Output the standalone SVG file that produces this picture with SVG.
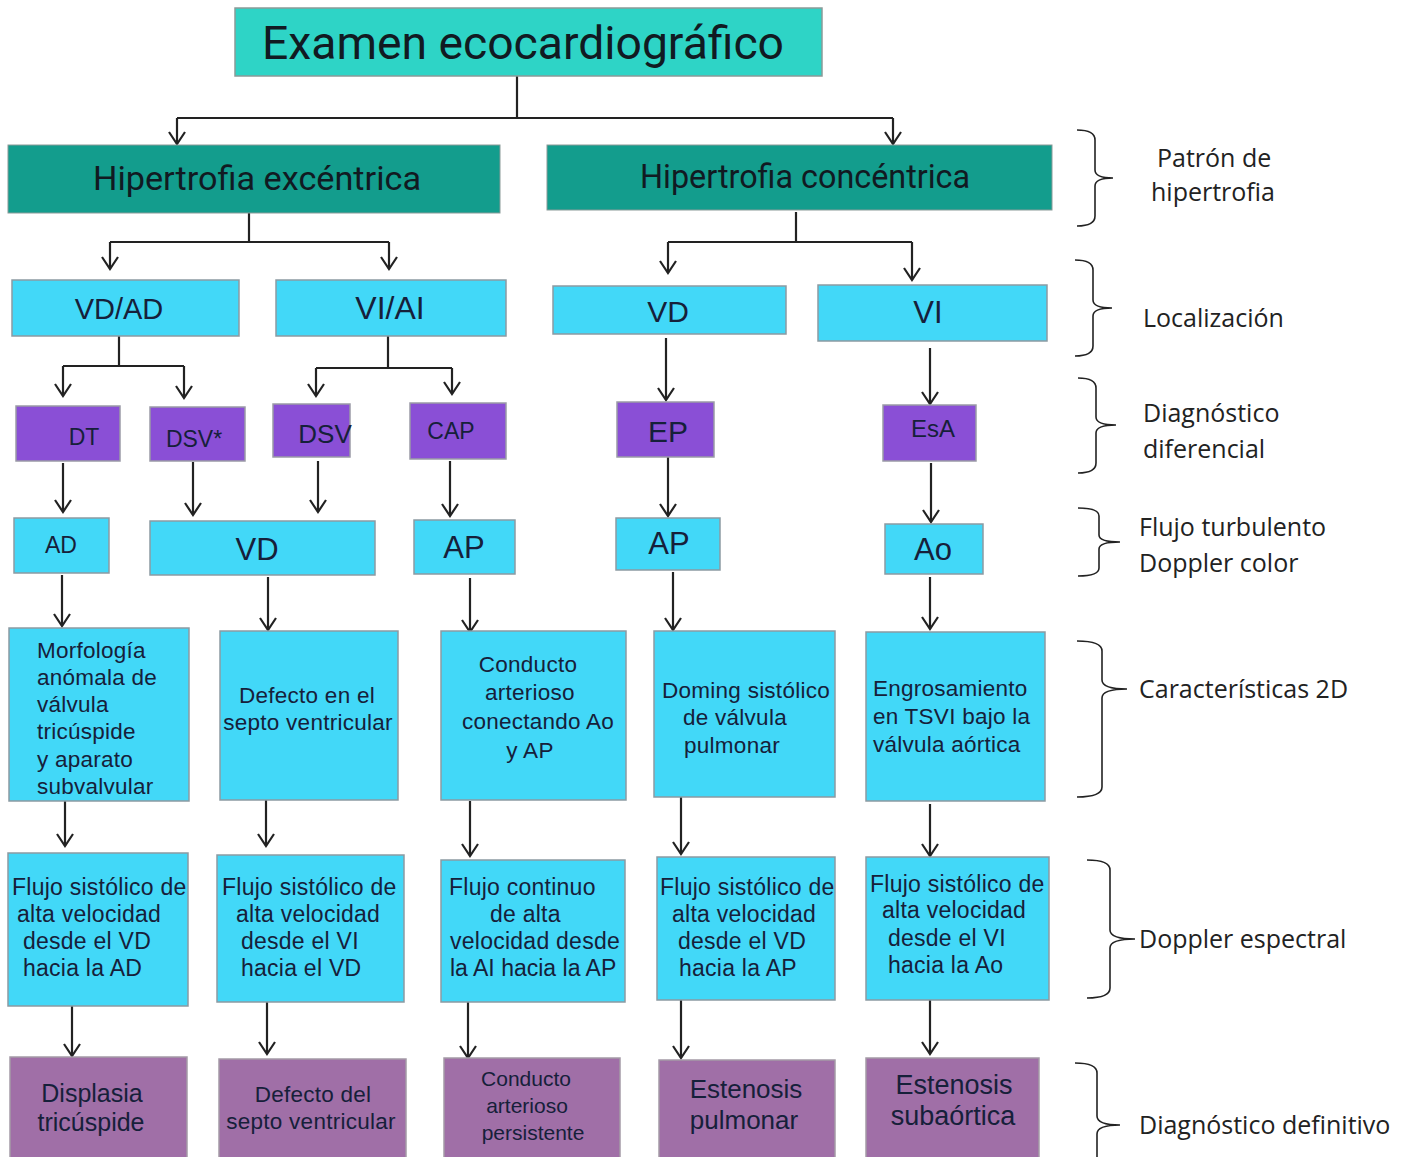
<svg xmlns="http://www.w3.org/2000/svg" width="1410" height="1157" viewBox="0 0 1410 1157">
<style>
.bg{fill:#ffffff}
.teal{fill:#2ed4c6;stroke:#8a9a98;stroke-width:1.5}
.dteal{fill:#139d8d;stroke:#8a9a98;stroke-width:1}
.blue{fill:#42d8f8;stroke:#8c9aa2;stroke-width:1.5}
.purp{fill:#8a4fd6;stroke:#9a9aa6;stroke-width:1.5}
.mauve{fill:#a06fa7;stroke:#a49aa6;stroke-width:1.5}
.hd{font-family:Roboto,"Liberation Sans",sans-serif;fill:#111a22}
.t{font-family:"Liberation Sans",Arial,sans-serif;fill:#16203a}
.s{letter-spacing:0.25px}
.c{text-anchor:middle}
.lbl{font-family:"Open Sans","Liberation Sans",sans-serif;font-size:25px;fill:#222}
.cn{fill:none;stroke:#222;stroke-width:2.2}
.br{fill:none;stroke:#222;stroke-width:1.6}
</style>
<defs>
<marker id="arr" viewBox="-14 -10 16 20" refX="0" refY="0" markerWidth="16" markerHeight="20" markerUnits="userSpaceOnUse" orient="auto">
<path d="M -12 -8 L 0 0 L -12 8" fill="none" stroke="#222" stroke-width="2.2"/>
</marker>
</defs>
<rect class="bg" x="0" y="0" width="1410" height="1157"/>

<g id="connectors">
<path class="cn" d="M517,76 V118 M177,118 H893"/>
<path class="cn" d="M177,118 V144" marker-end="url(#arr)"/>
<path class="cn" d="M893,118 V144" marker-end="url(#arr)"/>
<path class="cn" d="M249,213 V242 M110,242 H389"/>
<path class="cn" d="M110,242 V269" marker-end="url(#arr)"/>
<path class="cn" d="M389,242 V269" marker-end="url(#arr)"/>
<path class="cn" d="M796,212 V242 M668,242 H912"/>
<path class="cn" d="M668,242 V273" marker-end="url(#arr)"/>
<path class="cn" d="M912,242 V280" marker-end="url(#arr)"/>
<path class="cn" d="M119,336 V366 M63,366 H184"/>
<path class="cn" d="M63,366 V396" marker-end="url(#arr)"/>
<path class="cn" d="M184,366 V398" marker-end="url(#arr)"/>
<path class="cn" d="M388,336 V368 M316,368 H452"/>
<path class="cn" d="M316,368 V396" marker-end="url(#arr)"/>
<path class="cn" d="M452,368 V394" marker-end="url(#arr)"/>
<path class="cn" d="M666,338 V400" marker-end="url(#arr)"/>
<path class="cn" d="M930,348 V404" marker-end="url(#arr)"/>
<path class="cn" d="M63,463 V512" marker-end="url(#arr)"/>
<path class="cn" d="M193,462 V515" marker-end="url(#arr)"/>
<path class="cn" d="M318,461 V512" marker-end="url(#arr)"/>
<path class="cn" d="M450,461 V516" marker-end="url(#arr)"/>
<path class="cn" d="M668,457 V516" marker-end="url(#arr)"/>
<path class="cn" d="M931,463 V522" marker-end="url(#arr)"/>
<path class="cn" d="M62,575 V626" marker-end="url(#arr)"/>
<path class="cn" d="M268,577 V630" marker-end="url(#arr)"/>
<path class="cn" d="M470,578 V632" marker-end="url(#arr)"/>
<path class="cn" d="M673,572 V630" marker-end="url(#arr)"/>
<path class="cn" d="M930,577 V629" marker-end="url(#arr)"/>
<path class="cn" d="M65,801 V846" marker-end="url(#arr)"/>
<path class="cn" d="M266,800 V846" marker-end="url(#arr)"/>
<path class="cn" d="M470,801 V856" marker-end="url(#arr)"/>
<path class="cn" d="M681,797 V854" marker-end="url(#arr)"/>
<path class="cn" d="M930,804 V856" marker-end="url(#arr)"/>
<path class="cn" d="M72,1006 V1056" marker-end="url(#arr)"/>
<path class="cn" d="M267,1002 V1054" marker-end="url(#arr)"/>
<path class="cn" d="M468,1002 V1058" marker-end="url(#arr)"/>
<path class="cn" d="M681,1000 V1058" marker-end="url(#arr)"/>
<path class="cn" d="M930,1000 V1054" marker-end="url(#arr)"/>
</g>

<g id="examen">
<rect class="teal" x="235" y="8" width="587" height="68"/>
<text class="hd c" x="523" y="59" font-size="47" textLength="522" lengthAdjust="spacingAndGlyphs">Examen ecocardiográfico</text>
</g>
<g id="hip-exc">
<rect class="dteal" x="8" y="145" width="492" height="68"/>
<text class="hd c" x="257" y="190" font-size="34" textLength="328" lengthAdjust="spacingAndGlyphs">Hipertrofia excéntrica</text>
</g>
<g id="hip-conc">
<rect class="dteal" x="547" y="145" width="505" height="65"/>
<text class="hd c" x="805" y="188" font-size="33" textLength="330" lengthAdjust="spacingAndGlyphs">Hipertrofia concéntrica</text>
</g>

<g id="vdad">
<rect class="blue" x="12" y="280" width="227" height="56"/>
<text class="t c" x="119" y="319" font-size="29">VD/AD</text>
</g>
<g id="viai">
<rect class="blue" x="276" y="280" width="230" height="56"/>
<text class="t c" x="390" y="319" font-size="32">VI/AI</text>
</g>
<g id="vd-c">
<rect class="blue" x="553" y="286" width="233" height="48"/>
<text class="t c" x="668" y="322" font-size="30">VD</text>
</g>
<g id="vi-c">
<rect class="blue" x="818" y="285" width="229" height="56"/>
<text class="t c" x="928" y="323" font-size="31">VI</text>
</g>

<g id="dt">
<rect class="purp" x="16" y="406" width="104" height="55"/>
<text class="t c" x="84" y="445" font-size="23">DT</text>
</g>
<g id="dsvs">
<rect class="purp" x="150" y="407" width="95" height="54"/>
<text class="t c" x="194" y="447" font-size="23">DSV*</text>
</g>
<g id="dsv">
<rect class="purp" x="273" y="404" width="77" height="53"/>
<text class="t c" x="325" y="443" font-size="26">DSV</text>
</g>
<g id="cap">
<rect class="purp" x="410" y="403" width="96" height="56"/>
<text class="t c" x="451" y="439" font-size="23">CAP</text>
</g>
<g id="ep">
<rect class="purp" x="617" y="402" width="97" height="55"/>
<text class="t c" x="668" y="442" font-size="30">EP</text>
</g>
<g id="esa">
<rect class="purp" x="883" y="405" width="93" height="56"/>
<text class="t c" x="933" y="437" font-size="24">EsA</text>
</g>

<g id="ad">
<rect class="blue" x="14" y="518" width="95" height="55"/>
<text class="t c" x="61" y="553" font-size="23">AD</text>
</g>
<g id="vd2">
<rect class="blue" x="150" y="521" width="225" height="54"/>
<text class="t c" x="257" y="560" font-size="31">VD</text>
</g>
<g id="ap1">
<rect class="blue" x="414" y="520" width="101" height="54"/>
<text class="t c" x="464" y="558" font-size="31">AP</text>
</g>
<g id="ap2">
<rect class="blue" x="616" y="518" width="104" height="52"/>
<text class="t c" x="669" y="554" font-size="31">AP</text>
</g>
<g id="ao">
<rect class="blue" x="885" y="524" width="98" height="50"/>
<text class="t c" x="933" y="560" font-size="31">Ao</text>
</g>

<g id="morf">
<rect class="blue" x="9" y="628" width="180" height="173"/>
<text class="t s" x="37" y="658" font-size="22.5">Morfología</text>
<text class="t s" x="37" y="685" font-size="22.5">anómala de</text>
<text class="t s" x="37" y="712" font-size="22.5">válvula</text>
<text class="t s" x="37" y="739" font-size="22.5">tricúspide</text>
<text class="t s" x="37" y="767" font-size="22.5">y aparato</text>
<text class="t s" x="37" y="794" font-size="22.5">subvalvular</text>
</g>
<g id="defecto">
<rect class="blue" x="220" y="631" width="178" height="169"/>
<text class="t c s" x="307" y="703" font-size="22.5">Defecto en el</text>
<text class="t c s" x="308" y="730" font-size="22.5">septo ventricular</text>
</g>
<g id="conducto">
<rect class="blue" x="441" y="631" width="185" height="169"/>
<text class="t c s" x="528" y="672" font-size="22.5">Conducto</text>
<text class="t c s" x="530" y="700" font-size="22.5">arterioso</text>
<text class="t c s" x="538" y="729" font-size="22.5">conectando Ao</text>
<text class="t c s" x="530" y="758" font-size="22.5">y AP</text>
</g>
<g id="doming">
<rect class="blue" x="654" y="631" width="181" height="166"/>
<text class="t c s" x="746" y="698" font-size="22.5">Doming sistólico</text>
<text class="t c s" x="735" y="725" font-size="22.5">de válvula</text>
<text class="t c s" x="732" y="753" font-size="22.5">pulmonar</text>
</g>
<g id="engros">
<rect class="blue" x="866" y="632" width="179" height="169"/>
<text class="t s" x="873" y="696" font-size="22.5">Engrosamiento</text>
<text class="t s" x="873" y="724" font-size="22.5">en TSVI bajo la</text>
<text class="t s" x="873" y="752" font-size="22.5">válvula aórtica</text>
</g>

<g id="flujo1">
<rect class="blue" x="8" y="853" width="180" height="153"/>
<text class="t s" x="12" y="895" font-size="23">Flujo sistólico de</text>
<text class="t s" x="17" y="922" font-size="23">alta velocidad</text>
<text class="t s" x="23" y="949" font-size="23">desde el VD</text>
<text class="t s" x="23" y="976" font-size="23">hacia la AD</text>
</g>
<g id="flujo2">
<rect class="blue" x="217" y="855" width="187" height="147"/>
<text class="t s" x="222" y="895" font-size="23">Flujo sistólico de</text>
<text class="t s" x="236" y="922" font-size="23">alta velocidad</text>
<text class="t s" x="241" y="949" font-size="23">desde el VI</text>
<text class="t s" x="241" y="976" font-size="23">hacia el VD</text>
</g>
<g id="flujo3">
<rect class="blue" x="441" y="860" width="184" height="142"/>
<text class="t s" x="449" y="895" font-size="23">Flujo continuo</text>
<text class="t s" x="490" y="922" font-size="23">de alta</text>
<text class="t s" x="450" y="949" font-size="23">velocidad desde</text>
<text class="t" x="450" y="976" font-size="23">la AI hacia la AP</text>
</g>
<g id="flujo4">
<rect class="blue" x="657" y="857" width="178" height="143"/>
<text class="t s" x="660" y="895" font-size="23">Flujo sistólico de</text>
<text class="t s" x="672" y="922" font-size="23">alta velocidad</text>
<text class="t s" x="678" y="949" font-size="23">desde el VD</text>
<text class="t s" x="679" y="976" font-size="23">hacia la AP</text>
</g>
<g id="flujo5">
<rect class="blue" x="866" y="857" width="183" height="143"/>
<text class="t s" x="870" y="892" font-size="23">Flujo sistólico de</text>
<text class="t s" x="882" y="918" font-size="23">alta velocidad</text>
<text class="t s" x="888" y="946" font-size="23">desde el VI</text>
<text class="t s" x="888" y="973" font-size="23">hacia la Ao</text>
</g>

<g id="displasia">
<rect class="mauve" x="10" y="1057" width="177" height="102"/>
<text class="t c" x="92" y="1102" font-size="25">Displasia</text>
<text class="t c" x="91" y="1131" font-size="25">tricúspide</text>
</g>
<g id="dsv-def">
<rect class="mauve" x="219" y="1059" width="187" height="100"/>
<text class="t c s" x="313" y="1102" font-size="22.5">Defecto del</text>
<text class="t c s" x="311" y="1129" font-size="22.5">septo ventricular</text>
</g>
<g id="cap-def">
<rect class="mauve" x="444" y="1058" width="176" height="101"/>
<text class="t c" x="526" y="1086" font-size="21">Conducto</text>
<text class="t c" x="527" y="1113" font-size="21">arterioso</text>
<text class="t c" x="533" y="1140" font-size="21">persistente</text>
</g>
<g id="ep-def">
<rect class="mauve" x="659" y="1060" width="176" height="99"/>
<text class="t c" x="746" y="1098" font-size="26">Estenosis</text>
<text class="t c" x="744" y="1129" font-size="26">pulmonar</text>
</g>
<g id="esa-def">
<rect class="mauve" x="866" y="1058" width="173" height="101"/>
<text class="t c" x="954" y="1094" font-size="27">Estenosis</text>
<text class="t c" x="953" y="1125" font-size="27">subaórtica</text>
</g>

<g id="legend">
<path class="br" d="M1077,130 Q1095,130 1095,140 V170 Q1095,178 1113,178 Q1095,178 1095,186 V216 Q1095,226 1077,226"/>
<text class="lbl" x="1157" y="167">Patrón de</text>
<text class="lbl" x="1151" y="201">hipertrofia</text>
<path class="br" d="M1075,260 Q1093,260 1093,270 V300 Q1093,308 1112,308 Q1093,308 1093,316 V346 Q1093,356 1075,356"/>
<text class="lbl" x="1143" y="327">Localización</text>
<path class="br" d="M1078,378 Q1096,378 1096,388 V417 Q1096,425 1116,425 Q1096,425 1096,433 V463 Q1096,473 1078,473"/>
<text class="lbl" x="1143" y="422">Diagnóstico</text>
<text class="lbl" x="1143" y="458">diferencial</text>
<path class="br" d="M1078,508 Q1099,508 1099,516 V535 Q1099,542 1120,542 Q1099,542 1099,549 V568 Q1099,576 1078,576"/>
<text class="lbl" x="1139" y="536">Flujo turbulento</text>
<text class="lbl" x="1139" y="572">Doppler color</text>
<path class="br" d="M1077,641 Q1102,641 1102,651 V680 Q1102,689 1127,689 Q1102,689 1102,698 V787 Q1102,797 1077,797"/>
<text class="lbl" x="1139" y="698">Características 2D</text>
<path class="br" d="M1087,860 Q1110,860 1110,870 V930 Q1110,939 1135,939 Q1110,939 1110,948 V988 Q1110,998 1087,998"/>
<text class="lbl" x="1139" y="948">Doppler espectral</text>
<path class="br" d="M1075,1063 Q1097,1063 1097,1073 V1116 Q1097,1125 1120,1125 Q1097,1125 1097,1134 V1157"/>
<text class="lbl" x="1139" y="1134">Diagnóstico definitivo</text>
</g>
</svg>
